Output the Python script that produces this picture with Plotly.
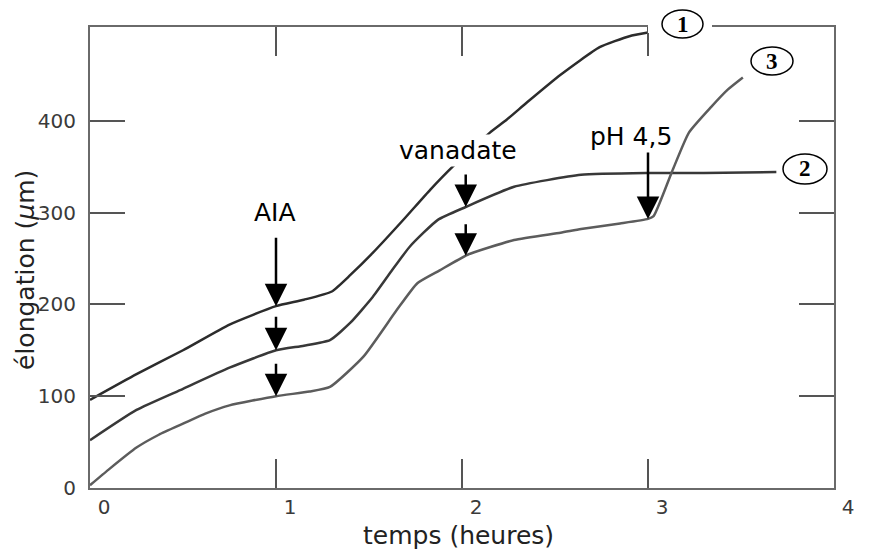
import numpy as np
import plotly.graph_objects as go

# ---- data ----
t1 = [0, 0.25, 0.5, 0.75, 1.0, 1.15, 1.3, 1.4, 1.52, 1.68, 1.83, 1.95, 2.15, 2.24, 2.35, 2.53, 2.74, 2.9, 3.0]
y1 = [96, 124, 150, 178, 198, 205, 214, 232, 256, 291, 325, 350, 387, 401, 420, 450, 480, 492, 496]

t2 = [0, 0.25, 0.5, 0.75, 1.0, 1.15, 1.29, 1.4, 1.52, 1.62, 1.72, 1.87, 2.02, 2.28, 2.64, 3.0, 3.3, 3.69]
y2 = [52, 85, 108, 131, 150, 155, 161, 180, 208, 236, 263, 292, 306, 328, 341, 343, 343, 344]

t3 = [0, 0.1, 0.25, 0.37, 0.5, 0.62, 0.75, 1.0, 1.18, 1.29, 1.47, 1.65, 1.76, 1.88, 2.03, 2.28, 2.53, 2.64, 2.85, 3.0, 3.03, 3.13, 3.22, 3.34, 3.43, 3.51]
y3 = [3, 20, 44, 58, 70, 81, 90, 100, 105, 110, 143, 194, 223, 237, 254, 270, 278, 282, 288, 293, 296, 345, 387, 415, 434, 447]

x_ticks = [0, 1, 2, 3, 4]
y_ticks = [0, 100, 200, 300, 400]

t_aia = 1.0
t_vanadate = 2.02
t_ph = 3.0

curve_labels = ["1", "2", "3"]
x_title = "temps (heures)"
y_title = "élongation (<i>μ</i>m)"

FONT = "DejaVu Sans"

fig = go.Figure()
for t, y, col in [(t1, y1, "#2c2c2c"), (t2, y2, "#383838"), (t3, y3, "#5c5c5c")]:
    fig.add_trace(go.Scatter(x=t, y=y, mode="lines",
                             line=dict(color=col, width=2.5, shape="spline", smoothing=0.5),
                             showlegend=False, hoverinfo="skip"))

axis_common = dict(showline=True, mirror="ticks", linecolor="#6a6a6a", linewidth=2,
                   ticks="inside", tickcolor="#555", tickwidth=1.5,
                   showgrid=False, zeroline=False,
                   tickfont=dict(family=FONT, size=20, color="#3a3a3a"))

fig.update_xaxes(range=[0, 4], tickvals=x_ticks, ticklen=29,
                 ticklabelshift=14, ticklabelstandoff=0, **axis_common)
fig.update_yaxes(range=[0, 502], tickvals=y_ticks, ticklen=35,
                 ticklabelstandoff=8, **axis_common)

C = dict(xanchor="center", yanchor="middle")
ann = []
# axis titles
ann.append(dict(text=x_title, xref="paper", yref="paper", x=0.495, y=-0.104,
                showarrow=False, font=dict(family=FONT, size=25, color="#222"), **C))
ann.append(dict(text=y_title, xref="paper", yref="paper", x=-0.086, y=0.473,
                textangle=-90, showarrow=False, font=dict(family=FONT, size=25, color="#222"), **C))

# treatment labels
ann.append(dict(text="AIA", x=0.993, y=300, xref="x", yref="y", showarrow=False,
                font=dict(family=FONT, size=25, color="black"), **C))
ann.append(dict(text="vanadate", x=1.98, y=367, xref="x", yref="y", showarrow=False,
                bgcolor="white", font=dict(family=FONT, size=25, color="black"), **C))
ann.append(dict(text="pH 4,5", x=2.91, y=383, xref="x", yref="y", showarrow=False,
                font=dict(family=FONT, size=25, color="black"), **C))

arrow_style = dict(showarrow=True, arrowhead=2, arrowsize=1.8, arrowwidth=2.5,
                   arrowcolor="black", text="", xref="x", yref="y", ax=0)
# AIA arrows
ann.append(dict(x=t_aia, y=float(np.interp(t_aia, t1, y1)), ay=-70, **arrow_style))
ann.append(dict(x=t_aia, y=float(np.interp(t_aia, t2, y2)), ay=-35, **arrow_style))
ann.append(dict(x=t_aia, y=float(np.interp(t_aia, t3, y3)), ay=-34, **arrow_style))
# vanadate arrows
ann.append(dict(x=t_vanadate, y=float(np.interp(t_vanadate, t2, y2)), ay=-34, **arrow_style))
ann.append(dict(x=t_vanadate, y=float(np.interp(t_vanadate, t3, y3)), ay=-33, **arrow_style))
# pH arrow
ann.append(dict(x=t_ph, y=float(np.interp(t_ph, t3, y3)), ay=-68, **arrow_style))

# circled curve labels (paper coordinates; plot area spans 90..834 x 27..488 px)
def px2paper(px, py):
    return (px - 90) / 744, (488 - py) / 461

shapes = []
# white gap in the top frame behind label 1
gx0, gy0 = px2paper(648, 33)
gx1, gy1 = px2paper(712, 20)
shapes.append(dict(type="rect", xref="paper", yref="paper", x0=gx0, x1=gx1, y0=gy0, y1=gy1,
                   fillcolor="white", line=dict(width=0), layer="above"))
label_boxes = [(662, 10, 703, 38), (783, 154, 827, 184), (751, 47, 793, 75)]
for lab, (a, b, c, d) in zip(curve_labels, label_boxes):
    x0, y0 = px2paper(a, d)
    x1, y1_ = px2paper(c, b)
    shapes.append(dict(type="circle", xref="paper", yref="paper", x0=x0, x1=x1, y0=y0, y1=y1_,
                       fillcolor="white", line=dict(color="black", width=1.5), layer="above"))
    ann.append(dict(text="<b>%s</b>" % lab, xref="paper", yref="paper",
                    x=(x0 + x1) / 2, y=(y0 + y1_) / 2, showarrow=False,
                    font=dict(family="Liberation Serif", size=23, color="black"), **C))

# page body has an 8px default margin, so the figure is 8px smaller and margins shifted
fig.update_layout(width=861, height=547, margin=dict(l=82, r=35, t=19, b=67),
                  plot_bgcolor="white", paper_bgcolor="white",
                  annotations=ann, shapes=shapes)

fig.write_html("out.html")
